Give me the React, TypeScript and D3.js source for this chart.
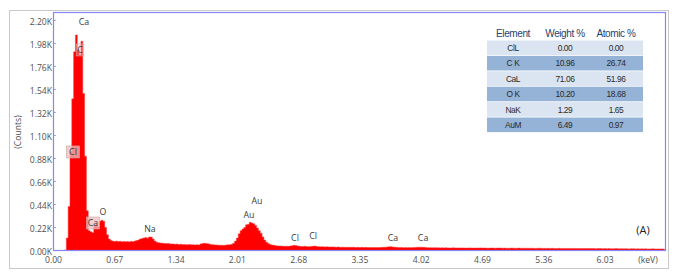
import React from "react";
import * as d3 from "d3";

const W = 677;
const H = 280;
const BIN = 0.02; // keV per channel

// counts per 0.02 keV channel, starting at 0.00 keV (rows of 0.2 keV)
const counts: number[] = [
  0, 0, 0, 0, 0, 0, 5, 120, 420, 950,
  1450, 1900, 2060, 1920, 1870, 2000, 1500, 900, 380, 190,
  180, 170, 240, 250, 230, 280, 290, 280, 220, 150,
  110, 95, 90, 85, 90, 85, 88, 84, 87, 83,
  85, 82, 88, 84, 90, 95, 100, 110, 115, 120,
  125, 118, 130, 128, 110, 90, 80, 75, 72, 70,
  68, 66, 67, 64, 62, 63, 60, 61, 58, 60,
  57, 58, 56, 55, 57, 54, 55, 53, 55, 52,
  62, 66, 70, 68, 65, 60, 56, 55, 53, 52,
  50, 51, 49, 50, 52, 55, 55, 60, 70, 90,
  120, 160, 190, 205, 220, 245, 250, 270, 262, 255,
  240, 215, 190, 165, 130, 100, 80, 66, 58, 52,
  49, 46, 44, 43, 42, 41, 40, 41, 40, 42,
  46, 50, 48, 44, 40, 38, 39, 40, 38, 37,
  38, 40, 42, 40, 37, 36, 35, 36, 34, 35,
  34, 33, 34, 33, 32, 33, 32, 31, 32, 31,
  30, 31, 30, 31, 30, 29, 30, 29, 30, 29,
  30, 29, 28, 29, 28, 29, 28, 29, 28, 30,
  31, 32, 33, 35, 36, 34, 32, 30, 29, 28,
  28, 27, 28, 27, 28, 27, 28, 29, 30, 31,
  32, 31, 30, 28, 27, 26, 27, 26, 27, 26,
  26, 25, 26, 25, 26, 25, 24, 25, 26, 25,
  24, 25, 24, 25, 24, 23, 24, 25, 24, 23,
  24, 23, 24, 25, 23, 24, 23, 22, 23, 24,
  23, 22, 23, 24, 23, 22, 23, 22, 21, 22,
  23, 22, 21, 22, 23, 22, 21, 22, 21, 22,
  21, 22, 21, 20, 21, 22, 21, 20, 21, 20,
  21, 20, 21, 20, 19, 20, 21, 20, 19, 20,
  19, 20, 19, 20, 19, 18, 19, 20, 19, 18,
  19, 18, 19, 18, 19, 18, 17, 18, 19, 18,
  17, 18, 17, 18, 17, 16, 17, 18, 17, 16,
  17, 16, 17, 16, 15, 16, 17, 16, 15, 16,
  15, 16, 15, 16, 15, 14, 15, 16, 15, 14,
  15, 14, 15, 14,
];

const xTicks = [0.0, 0.67, 1.34, 2.01, 2.68, 3.35, 4.02, 4.69, 5.36, 6.03];
const yTicks = [0, 220, 440, 660, 880, 1100, 1320, 1540, 1760, 1980, 2200];

// peak annotations: text, energy (keV), counts (label centre), boxed?
const peakText = ["Ca", "C", "Cl", "Ca", "O", "Na", "Au", "Au", "Cl", "Cl", "Ca", "Ca"];
const peakEnergy = [0.333, 0.29, 0.213, 0.432, 0.541, 1.055, 2.225, 2.137, 2.64, 2.837, 3.71, 4.04];
const peakCounts = [2184, 1917, 942, 263, 368, 206, 473, 339, 119, 139, 119, 119];
const peakBoxed = [false, true, true, true, false, false, false, false, false, false, false, false];

const tableHeader = ["Element", "Weight %", "Atomic %"];
const tableElement = ["ClL", "C K", "CaL", "O K", "NaK", "AuM"];
const tableWeight = ["0.00", "10.96", "71.06", "10.20", "1.29", "6.49"];
const tableAtomic = ["0.00", "26.74", "51.96", "18.68", "1.65", "0.97"];

export default function App() {
  const left = 53.5, right = 665.5, top = 12.5, bottom = 250.5;
  const x = d3.scaleLinear().domain([0, 6.69]).range([left, right]);
  const y = d3.scaleLinear().domain([0, 2280]).range([bottom, top - 0.5]);

  const data = counts.map((c, i) => ({ e: i * BIN, c }));
  data.push({ e: counts.length * BIN, c: counts[counts.length - 1] });

  const area = d3
    .area<{ e: number; c: number }>()
    .x((d) => x(d.e))
    .y0(y(0))
    .y1((d) => y(d.c))
    .curve(d3.curveStepAfter);
  const line = d3
    .line<{ e: number; c: number }>()
    .x((d) => x(d.e))
    .y((d) => y(d.c))
    .curve(d3.curveStepAfter);

  const font = "'Open Sans', 'DejaVu Sans', sans-serif";
  const tfont = "'Liberation Sans', Arial, sans-serif";

  const tblX = 487, tblW = 156, rowH = 15.4, rowY0 = 40.5;
  const colX = [513, 565, 616];

  return (
    <svg
      width={W}
      height={H}
      style={{ position: "absolute", left: 0, top: 0, background: "#fff" }}
    >
      <rect x={9.5} y={10.5} width={659} height={258} fill="#fff" stroke="#c9c9c9" />
      <rect x={left} y={top} width={right - left} height={bottom - top} fill="#fff" />
      <path d={area(data) || ""} fill="#ff0000" />
      <path d={line(data) || ""} fill="none" stroke="#ff3a3a" strokeWidth={0.5} />

      {/* plot frame */}
      <rect
        x={left}
        y={top}
        width={right - left}
        height={bottom - top}
        fill="none"
        stroke="#8585f5"
        strokeWidth={1.2}
      />

      {/* y ticks */}
      {yTicks.map((t) => (
        <g key={"y" + t}>
          <line x1={left} x2={left + 2.5} y1={y(t)} y2={y(t)} stroke="#8585f5" strokeWidth={0.8} />
          <text
            x={52}
            y={y(t) + 2}
            dy="0.32em"
            textAnchor="end"
            fontFamily={font}
            fontSize={8.6}
            fill="#505050"
          >
            {(t / 1000).toFixed(2) + "K"}
          </text>
        </g>
      ))}
      {/* x ticks */}
      {xTicks.map((t) => (
        <text
          key={"x" + t}
          x={x(t)}
          y={260.5}
          dy="0.32em"
          textAnchor="middle"
          fontFamily={font}
          fontSize={8.6}
          fill="#505050"
        >
          {t.toFixed(2)}
        </text>
      ))}
      <text x={648} y={260.5} dy="0.32em" textAnchor="middle" fontFamily={font} fontSize={8.6} fill="#505050">
        (keV)
      </text>
      <text
        transform={`translate(18,132) rotate(-90)`}
        textAnchor="middle"
        dy="0.32em"
        fontFamily={font}
        fontSize={8.6}
        fill="#505050"
      >
        (Counts)
      </text>

      {/* peak labels */}
      {peakText.map((t, i) => {
        const px = x(peakEnergy[i]);
        const py = y(peakCounts[i]);
        const w = t.length * 5.6 + 2;
        return (
          <g key={"p" + i}>
            {peakBoxed[i] && (
              <rect
                x={px - w / 2}
                y={py - 6}
                width={w}
                height={12}
                fill={i === 1 ? "rgba(255,200,200,0.35)" : "rgba(240,190,190,0.75)"}
                stroke="#c8a8a8"
                strokeWidth={0.6}
              />
            )}
            <text
              x={px}
              y={py}
              dy="0.34em"
              textAnchor="middle"
              fontFamily={font}
              fontSize={8.8}
              fill="#3a3a3a"
            >
              {t}
            </text>
          </g>
        );
      })}

      <text x={643} y={230} dy="0.34em" textAnchor="middle" fontFamily={font} fontSize={11} fill="#222">
        (A)
      </text>

      {/* table */}
      {tableHeader.map((h, j) => (
        <text
          key={"h" + j}
          x={colX[j]}
          y={34}
          dy="0.34em"
          textAnchor="middle"
          fontFamily={tfont}
          fontSize={10}
          fill="#1f3f6f"
          letterSpacing={-0.4}
        >
          {h}
        </text>
      ))}
      {tableElement.map((el, i) => {
        const ry = rowY0 + i * rowH;
        return (
          <g key={"r" + i}>
            <rect
              x={tblX}
              y={ry}
              width={tblW}
              height={rowH - 0.8}
              fill={i % 2 === 0 ? "#dbe5f1" : "#95b3d7"}
            />
            {[el, tableWeight[i], tableAtomic[i]].map((v, j) => (
              <text
                key={j}
                x={colX[j]}
                y={ry + rowH / 2}
                dy="0.34em"
                textAnchor="middle"
                fontFamily={tfont}
                fontSize={8.4}
                fill="#2a2a2a"
                letterSpacing={-0.4}
              >
                {v}
              </text>
            ))}
          </g>
        );
      })}
    </svg>
  );
}
